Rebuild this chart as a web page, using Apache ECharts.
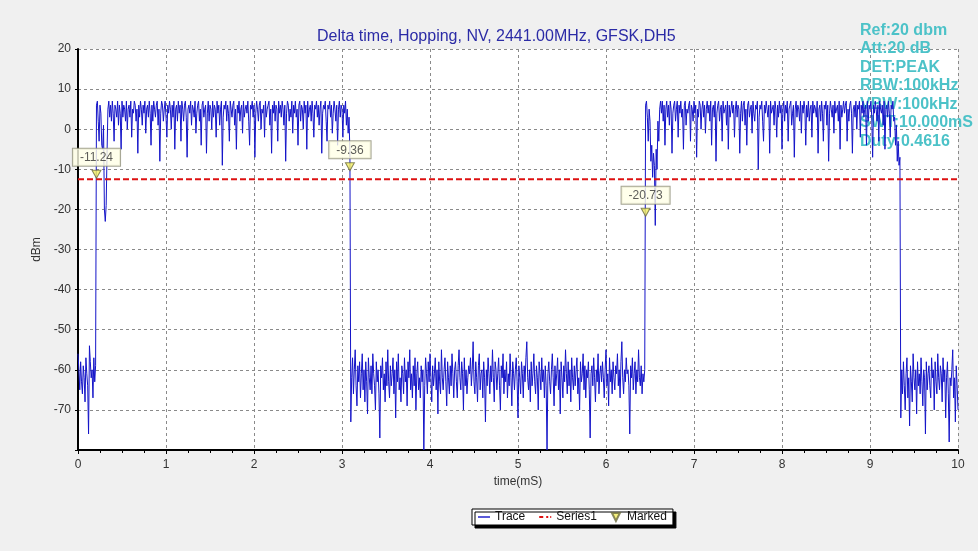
<!DOCTYPE html>
<html>
<head>
<meta charset="utf-8">
<script src="https://cdn.jsdelivr.net/npm/echarts@6/dist/echarts.min.js"></script>
<style>
html,body{margin:0;padding:0;background:#f0f0f0;}
#c{width:978px;height:551px;}
</style>
</head>
<body>
<div id="c"></div>
<script>
// ---- data ----
const titleText = 'Delta time, Hopping, NV, 2441.00MHz, GFSK,DH5';
const infoLines = ['Ref:20 dbm', 'Att:20 dB', 'DET:PEAK', 'RBW:100kHz', 'VBW:100kHz', 'SWT:10.000mS', 'Duty:0.4616'];
const timeStep = 0.01; // ms between trace samples
// 0.00 - 0.20 ms (off)
const lowA = [-56, -60, -65, -58, -63, -66, -59, -62, -68, -57, -61, -64, -76, -54, -58, -62, -60, -67, -57, -63, -59];
// 0.21 - 3.09 ms (burst 1)
const highA = [
  6, 7, 2, -3, 6, 4, -4, -5, 1, -20, -23, -19, -6, 5, 7, 3,
  6, 2, 7, 4, -3, 6, 5, 3, 7, 1, 6, 4, -5,
  7, 3, 6, 5, 2, 7, 0, 5, 6, 3, 7, -2, 5,
  4, 7, 6, 2, 5, -6, 6, 3, 7, 5, 1, 6, 4,
  7, -1, 5, 6, 3, 7, 4, -4, 6, 2, 7, 5, 3,
  6, 7, 1, 5, -8, 4, 7, 6, 2, 5, 7, 3, -2,
  6, 4, 7, 5, 0, 6, 3, 7, -5, 5, 6, 2, 7,
  4, 6, -3, 7, 5, 2, 6, 7, 3, -7, 5, 6, 4,
  7, 1, 6, 5, 3, 7, -1, 4, 6, 7, 2, 5, -4,
  6, 7, 3, 5, 6, -6, 4, 7, 2, 6, 5, 0, 7,
  3, 6, 5, -2, 7, 4, 6, 1, 5, 7, -9, 3, 6,
  5, 7, 2, 6, 4, -3, 7, 5, 3, 6, 7, 1, 5,
  -5, 6, 4, 7, 2, 5, 6, -1, 7, 3, 5, 6, 4,
  7, 2, -4, 6, 5, 7, 3, 6, -7, 4, 7, 5, 2,
  6, 7, 0, 5, 4, 6, -2, 7, 3, 5, 6, 7, 1,
  5, -6, 6, 4, 7, 2, 6, 5, -3, 7, 4, 6, 3,
  7, 5, 1, 6, -8, 4, 7, 6, 2, 5, 3, 7, -1,
  6, 4, 7, 3, 5, -4, 6, 7, 2, 6, 5, 0, 7,
  4, 6, -5, 7, 3, 5, 6, 2, 7, 4, -2, 6, 5,
  7, 3, 6, 1, 5, 7, -6, 4, 6, 5, 7, 2, -3,
  6, 5, 7, 3, 6, -1, 4, 7, 5, 2, 6, -4, 5,
  7, 3, 6, 5, -2, 6, 4, 7, 1, 5, -1, 3, -6
];
// 3.10 - 6.44 ms (off)
const lowB = [
  -73, -62, -57, -66, -60, -55, -64, -69, -59, -63, -58, -67, -61, -56, -65,
  -60, -68, -58, -63, -71, -57, -62, -65, -59, -66, -56, -61, -64, -70, -58,
  -63, -60, -66, -77, -59, -62, -57, -65, -61, -68, -58, -64, -55, -63, -67,
  -59, -64, -61, -57, -66, -60, -72, -58, -63, -56, -65, -62, -68, -59, -61,
  -66, -57, -63, -60, -69, -58, -62, -55, -65, -61, -67, -59, -64, -57, -70,
  -61, -58, -65, -62, -67, -59, -63, -60, -80, -64, -57, -61, -66, -58, -63,
  -56, -62, -68, -59, -64, -61, -57, -65, -60, -71, -58, -63, -66, -55, -62,
  -65, -60, -57, -63, -69, -58, -62, -66, -59, -64, -56, -61, -67, -60, -58,
  -63, -67, -59, -55, -62, -65, -58, -61, -70, -57, -64, -60, -66, -62, -59,
  -61, -57, -64, -60, -53, -63, -66, -58, -62, -68, -59, -56, -65, -61, -60,
  -67, -58, -62, -73, -60, -64, -57, -61, -66, -59, -63, -55, -62, -68, -58,
  -60, -65, -61, -57, -64, -70, -59, -62, -56, -66, -60, -63, -58, -67, -61,
  -64, -56, -62, -69, -58, -61, -65, -60, -57, -63, -72, -59, -62, -66, -58,
  -61, -67, -59, -63, -57, -53, -62, -65, -60, -68, -58, -64, -61, -56, -63,
  -66, -59, -62, -70, -58, -61, -65, -57, -63, -60, -67, -59, -64, -80, -61,
  -58, -63, -66, -60, -56, -62, -69, -59, -64, -61, -57, -65, -60, -71, -58,
  -62, -67, -59, -63, -55, -61, -66, -58, -64, -60, -68, -57, -62, -65, -59,
  -64, -60, -57, -66, -62, -70, -58, -63, -61, -56, -65, -59, -67, -60, -62,
  -58, -65, -77, -61, -59, -64, -57, -62, -68, -60, -63, -56, -66, -61, -59,
  -63, -58, -62, -67, -60, -55, -64, -61, -69, -57, -63, -60, -66, -58, -62,
  -65, -59, -61, -56, -64, -60, -67, -58, -53, -62, -66, -60, -63, -57, -61,
  -60, -64, -76, -59, -62, -57, -65, -61, -58, -66, -60, -63, -55, -62, -64,
  -59, -66, -61, -63, -60
];
// 6.45 - 9.34 ms (burst 2)
const highB = [
  6, 7, 3, -3, 5, 2, -8, -4, -12, -6, -9, -24, -5, -10, 2, -3, 5, 7,
  4, 7, 2, 6, -4, 5, 7, 3, 6, 1, 7, 5, -6, 4, 6, 7,
  2, 5, 7, -2, 6, 4, 7, 3, 5, -5, 6, 7, 1, 5, 4, 6,
  7, -3, 6, 5, 2, 7, 4, 6, -7, 5, 3, 7, 6, 0, 5, 7,
  3, 6, -1, 5, 7, 4, 6, 2, 7, -4, 5, 6, 3, 7, -8, 4,
  6, 7, 2, 5, 6, -3, 7, 4, 5, 6, 1, 7, -5, 6, 3, 5,
  7, 4, 6, -2, 5, 7, 3, 6, 5, -6, 4, 7, 2, 6, 7, 1,
  5, -4, 6, 7, 3, 5, 6, -1, 7, 4, 2, 6, 5, 7, -10, 3,
  6, 5, 7, 2, -3, 6, 4, 7, 5, 3, 6, -6, 7, 4, 5, 6,
  1, 7, 5, -2, 6, 3, 7, 4, 6, -5, 5, 7, 2, 6, 4, 7,
  -3, 5, 6, 7, 1, 4, 6, -7, 5, 7, 3, 6, 5, 2, 7, -1,
  6, 4, 7, 5, -4, 6, 3, 7, 2, 5, 6, -2, 7, 4, 6, 5,
  3, 7, -6, 5, 6, 2, 7, 4, -3, 6, 5, 7, 1, 6, -8, 4,
  7, 5, 3, 6, -1, 7, 4, 5, 6, 2, 7, -5, 6, 3, 5, 7,
  4, 6, 7, -3, 5, 2, 6, 7, 4, -6, 5, 6, 3, 7, 0, 6,
  5, 7, -2, 6, 4, 7, 3, 5, 6, -4, 7, 2, 6, 5, 7, 3,
  -7, 6, 4, 7, 5, 2, 6, -3, 7, 5, 4, 6, 1, 7, -5, 5,
  6, 3, 7, 4, -2, 6, 5, 7, 2, 3, -4, 1, -8, -3, -9, -7
];
// 9.35 - 10.00 ms (off)
const lowC = [
  -72, -60, -66, -58, -64, -70, -61, -57, -67, -62, -74,
  -59, -63, -68, -56, -62, -65, -60, -71, -58, -64, -61,
  -66, -57, -63, -69, -60, -62, -76, -58, -65, -61, -59,
  -64, -67, -57, -62, -60, -70, -58, -63, -66, -56, -62,
  -65, -59, -61, -68, -57, -63, -60, -72, -62, -58, -66,
  -78, -62, -64, -60, -55, -67, -62, -73, -59, -64, -70
];
const thresholdLevel = -12.5;
const markerTimes = [0.21, 3.09, 6.45];
const markerValues = [-11.24, -9.36, -20.73];
const xMin = 0, xMax = 10, xStep = 1;
const yMin = -80, yMax = 20, yStep = 10;

// ---- build series data ----
const trace = [].concat(lowA, highA, lowB, highB, lowC);
const traceData = trace.map((v, i) => [+(i * timeStep).toFixed(4), v]);
const thresholdData = [[xMin, thresholdLevel], [xMax, thresholdLevel]];
const markerData = markerTimes.map((t, i) => [t, markerValues[i]]);

const FONT = 'Liberation Sans, Arial, sans-serif';
const chart = echarts.init(document.getElementById('c'), null, {renderer: 'canvas'});
chart.setOption({
  backgroundColor: '#f0f0f0',
  animation: false,
  textStyle: {fontFamily: FONT},
  title: {
    text: titleText,
    left: 312, top: 24,
    textStyle: {color: '#2b2ba6', fontSize: 16, fontWeight: 'normal', fontFamily: FONT}
  },
  grid: {
    left: 78, top: 49, right: 20, bottom: 101,
    show: true, backgroundColor: '#ffffff', borderWidth: 0
  },
  legend: {
    left: 472, top: 509,
    backgroundColor: '#ffffff',
    borderColor: '#000', borderWidth: 1,
    shadowColor: '#000', shadowOffsetX: 3, shadowOffsetY: 3, shadowBlur: 0,
    padding: [2, 6, 2, 6],
    itemGap: 14, itemWidth: 12, itemHeight: 8,
    textStyle: {fontSize: 12, color: '#111', fontFamily: FONT},
    data: [
      {name: 'Trace', icon: 'path://M0,0 L12,0 L12,1.4 L0,1.4 Z', itemStyle: {color: '#1414c8'}},
      {name: 'Series1', icon: 'path://M0,0 L4,0 L4,2 L0,2 Z M7,0 L9,0 L9,2 L7,2 Z M11,0 L12,0 L12,2 L11,2 Z', itemStyle: {color: '#dd1111'}},
      {name: 'Marked', icon: 'path://M0,0 L10,0 L5,10 Z'}
    ]
  },
  xAxis: {
    type: 'value', min: xMin, max: xMax, interval: xStep,
    name: 'time(mS)', nameLocation: 'middle', nameGap: 24,
    nameTextStyle: {fontSize: 12, color: '#333', fontFamily: FONT},
    axisLine: {show: true, onZero: false, lineStyle: {color: '#000', width: 2}},
    axisTick: {show: true, length: 4, lineStyle: {color: '#000'}},
    minorTick: {show: true, splitNumber: 4, length: 3, lineStyle: {color: '#000'}},
    axisLabel: {fontSize: 12, color: '#333', margin: 9, fontFamily: FONT},
    splitLine: {show: true, lineStyle: {color: '#8a8a8a', type: [3, 3], width: 1}}
  },
  yAxis: {
    type: 'value', min: yMin, max: yMax, interval: yStep,
    name: 'dBm', nameLocation: 'middle', nameGap: 31, nameRotate: 90,
    nameTextStyle: {fontSize: 12, color: '#333', fontFamily: FONT},
    axisLine: {show: true, onZero: false, lineStyle: {color: '#000', width: 2}},
    axisTick: {show: true, length: 3, lineStyle: {color: '#000'}},
    axisLabel: {
      fontSize: 12, color: '#333', margin: 7, fontFamily: FONT,
      formatter: v => (v === yMin ? '' : String(v))
    },
    splitLine: {show: true, lineStyle: {color: '#8a8a8a', type: [3, 3], width: 1}}
  },
  graphic: [{
    type: 'text', left: 860, top: 21, z: 1, silent: true,
    style: {
      text: infoLines.join('\n'),
      fill: '#4cc2c8',
      font: 'bold 16px ' + FONT,
      lineHeight: 18.5
    }
  }],
  series: [
    {
      name: 'Trace', type: 'line', data: traceData,
      showSymbol: false, symbol: 'none', z: 3,
      lineStyle: {color: '#1414c8', width: 1},
      itemStyle: {color: '#1414c8'}
    },
    {
      name: 'Series1', type: 'line', data: thresholdData,
      showSymbol: false, symbol: 'none', z: 4,
      lineStyle: {color: '#dd1111', width: 2, type: [6, 3]},
      itemStyle: {color: '#dd1111'}
    },
    {
      name: 'Marked', type: 'scatter', data: markerData, z: 5,
      symbol: 'triangle', symbolRotate: 180, symbolSize: [9, 8],
      itemStyle: {color: '#f2ee5e', borderColor: '#6b6b40', borderWidth: 1},
      label: {
        show: true, position: 'top', distance: 4,
        formatter: p => p.value[1].toFixed(2),
        backgroundColor: '#ffffe6', borderColor: '#8f8f78', borderWidth: 1,
        padding: [3, 7, 2, 7], fontSize: 12, color: '#333', fontFamily: FONT
      }
    }
  ]
});
</script>
</body>
</html>
